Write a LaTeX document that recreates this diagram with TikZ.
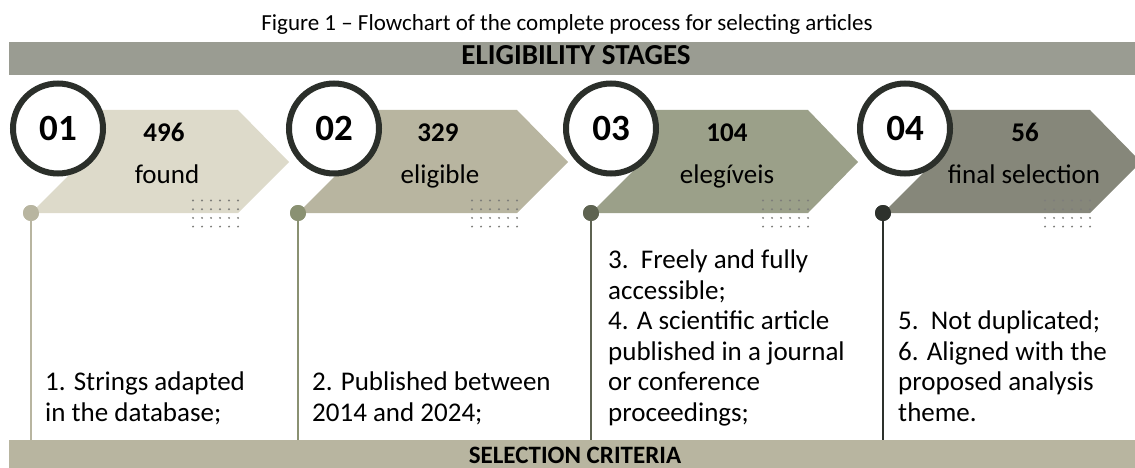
\documentclass[tikz,border=0pt]{standalone}
\usepackage{fontspec}
\setmainfont{Carlito}
\definecolor{topbar}{HTML}{9A9C92}
\definecolor{botbar}{HTML}{B8B5A0}
\definecolor{chevA}{HTML}{DDDACA}
\definecolor{chevB}{HTML}{B8B5A0}
\definecolor{chevC}{HTML}{9BA089}
\definecolor{chevD}{HTML}{86877A}
\definecolor{pinA}{HTML}{B8B5A0}
\definecolor{pinB}{HTML}{8A9172}
\definecolor{pinC}{HTML}{5E6351}
\definecolor{pinD}{HTML}{2D312C}
\definecolor{ringc}{HTML}{2B2F2A}
\definecolor{gridc}{HTML}{7E7E7A}
\begin{document}
\begin{tikzpicture}[x=1pt,y=-1pt,
  bar/.style={rectangle, inner sep=0pt, minimum width=1126pt},
  bartext/.style={anchor=base, inner sep=0pt, font=\bfseries},
  stagecircle/.style={circle, draw=ringc, line width=6pt, fill=white, minimum size=90pt, inner sep=0pt, font=\fontsize{37}{40}\selectfont\bfseries},
  pin/.style={circle, inner sep=0pt, minimum size=16pt},
  stem/.style={line width=2pt},
  count/.style={anchor=base, inner sep=0pt, font=\fontsize{27}{30}\selectfont\bfseries},
  stagename/.style={anchor=base, inner sep=0pt, font=\fontsize{27}{30}\selectfont},
  crit/.style={anchor=base west, align=left, inner sep=0pt, font=\fontsize{27}{30.5}\selectfont},
  gridcells/.style={fill=gridc}
]
\useasboundingbox (0,0) rectangle (1135,468);
\clip (0,0) rectangle (1135,468);

% caption
\node[anchor=base, inner sep=0pt, font=\fontsize{23}{26}\selectfont] (title) at (567,31)
  {Figure 1 – Flowchart of the complete process for selecting articles};

% header and footer bands
\node[bar, fill=topbar, minimum height=33pt] (stages) at (572,58.5) {};
\node[bartext, font=\fontsize{29}{32}\selectfont\bfseries] (stagestext) at (576,65) {ELIGIBILITY STAGES};
\node[bar, fill=botbar, minimum height=28pt] (criteria) at (572,454) {};
\node[bartext, font=\fontsize{25}{28}\selectfont\bfseries] (criteriatext) at (575,463) {SELECTION CRITERIA};

% pins on the chevrons
\node[pin, fill=pinA] (d1) at (31,213) {};
\node[pin, fill=pinB] (d2) at (298,213) {};
\node[pin, fill=pinC] (d3) at (591,213) {};
\node[pin, fill=pinD] (d4) at (883,213) {};

% stems from each pin down to the footer band
\draw[stem, pinA] (d1.center) -- (d1.center |- criteria.north);
\draw[stem, pinB] (d2.center) -- (d2.center |- criteria.north);
\draw[stem, pinC] (d3.center) -- (d3.center |- criteria.north);
\draw[stem, pinD] (d4.center) -- (d4.center |- criteria.north);

% chevrons
\fill[chevA] (31,213) -- (82,162) -- (31,110) -- (238,110) -- (289,162) -- (238,213) -- cycle;
\fill[chevB] (298,213) -- (349,162) -- (298,110) -- (517,110) -- (568,162) -- (517,213) -- cycle;
\fill[chevC] (591,213) -- (642,162) -- (591,110) -- (808,110) -- (858,162) -- (808,213) -- cycle;
\fill[chevD] (883,213) -- (934,162) -- (883,110) -- (1090,110) -- (1141,162) -- (1090,213) -- cycle;

% pins drawn again over the chevron edges
\fill[pinA] (d1) circle (8);
\fill[pinB] (d2) circle (8);
\fill[pinC] (d3) circle (8);
\fill[pinD] (d4) circle (8);

% dotted grids at the lower right of each chevron
\foreach \r in {238,517,808,1090}{
  \foreach \i in {0,...,5}{
    \foreach \j in {0,...,3}{
      \fill[gridcells] (\r-45+9*\i, 200.5+8.7*\j) circle (1.1);
    }
  }
}

% numbered rings
\node[stagecircle] (c1) at (58,128.5) {01};
\node[stagecircle] (c2) at (334,128.5) {02};
\node[stagecircle] (c3) at (611,128.5) {03};
\node[stagecircle] (c4) at (905,128.5) {04};

% counts and stage names
\node[count] (n1) at (164,142) {496};
\node[stagename] (w1) at (167,183) {found};
\node[count] (n2) at (438,142) {329};
\node[stagename] (w2) at (440,183) {eligible};
\node[count] (n3) at (727,142) {104};
\node[stagename] (w3) at (727,183) {elegíveis};
\node[count] (n4) at (1025,142) {56};
\node[stagename] (w4) at (1024,183) {final selection};

% criteria text
\node[crit] (t1) at (45,421) {1. Strings adapted\\in the database;};
\node[crit] (t2) at (312,421) {2. Published between\\2014 and 2024;};
\node[crit] (t3) at (608,421) {3.\ \ Freely and fully\\accessible;\\4. A scientific article\\published in a journal\\or conference\\proceedings;};
\node[crit] (t4) at (898,421) {5.\ \ Not duplicated;\\6. Aligned with the\\proposed analysis\\theme.};
\end{tikzpicture}
\end{document}
